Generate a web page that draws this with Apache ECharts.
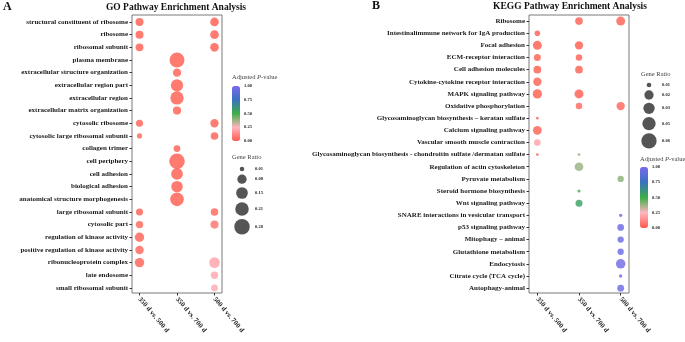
<!DOCTYPE html>
<html>
<head>
<meta charset="utf-8">
<script src="https://cdn.jsdelivr.net/npm/echarts@6/dist/echarts.min.js"></script>
<style>
  html, body { margin: 0; padding: 0; background: #fff; }
  #chart { width: 685px; height: 342px; }
</style>
</head>
<body>
<div id="chart"></div>
<script>
// ---- data ----
const comparisons = ["350 d vs. 500 d", "350 d vs. 700 d", "500 d vs. 700 d"];

const goTerms = [
  "structural constituent of ribosome", "ribosome", "ribosomal subunit", "plasma membrane",
  "extracellular structure organization", "extracellular region part", "extracellular region",
  "extracellular matrix organization", "cytosolic ribosome", "cytosolic large ribosomal subunit",
  "collagen trimer", "cell periphery", "cell adhesion", "biological adhesion",
  "anatomical structure morphogenesis", "large ribosomal subunit", "cytosolic part",
  "regulation of kinase activity", "positive regulation of kinase activity",
  "ribonucleoprotein complex", "late endosome", "small ribosomal subunit"
];
// gene ratio per comparison, null = not enriched
const goRatio350v500 = [0.061, 0.061, 0.058, null, null, null, null, null, 0.048, 0.02, null, null, null, null, null, 0.048, 0.052, 0.08, 0.068, 0.083, null, null];
const goRatio350v700 = [null, null, null, 0.262, 0.066, 0.17, 0.203, 0.064, null, null, 0.043, 0.28, 0.153, 0.143, 0.217, null, null, null, null, null, null, null];
const goRatio500v700 = [0.071, 0.071, 0.071, null, null, null, null, null, 0.066, 0.056, null, null, null, null, null, 0.054, 0.064, null, null, 0.121, 0.052, 0.042];
// adjusted p-value
const goPadj350v500 = [0.01, 0.01, 0.01, null, null, null, null, null, 0.02, 0.03, null, null, null, null, null, 0.02, 0.03, 0.02, 0.03, 0.02, null, null];
const goPadj350v700 = [null, null, null, 0.01, 0.02, 0.01, 0.01, 0.02, null, null, 0.02, 0.01, 0.01, 0.01, 0.01, null, null, null, null, null, null, null];
const goPadj500v700 = [0.01, 0.01, 0.01, null, null, null, null, null, 0.02, 0.02, null, null, null, null, null, 0.03, 0.07, null, null, 0.2, 0.21, 0.22];

const keggTerms = [
  "Ribosome", "Intestinalimmune network for IgA production", "Focal adhesion",
  "ECM-receptor interaction", "Cell adhesion molecules", "Cytokine-cytokine receptor interaction",
  "MAPK signaling pathway", "Oxidative phosphorylation",
  "Glycosaminoglycan biosynthesis \u2013 keratan sulfate", "Calcium signaling pathway",
  "Vascular smooth muscle contraction",
  "Glycosaminoglycan biosynthesis - chondroitin sulfate /dermatan sulfate",
  "Regulation of actin cytoskeleton", "Pyruvate metabolism", "Steroid hormone biosynthesis",
  "Wnt signaling pathway", "SNARE interactions in vesicular transport", "p53 signaling pathway",
  "Mitophagy \u2013 animal", "Glutathione metabolism", "Endocytosis",
  "Citrate cycle (TCA cycle)", "Autophagy-animal"
];
const keggRatio350v500 = [null, 0.012, 0.0193, 0.015, 0.0165, 0.0178, 0.02, null, 0.0057, 0.0187, 0.0143, 0.0057, null, null, null, null, null, null, null, null, null, null, null];
const keggRatio350v700 = [0.0165, null, 0.0178, 0.014, 0.0165, null, 0.0193, 0.014, null, null, null, 0.0057, 0.0187, null, 0.0067, 0.015, null, null, null, null, null, null, null];
const keggRatio500v700 = [0.0193, null, null, null, null, null, null, 0.0178, null, null, null, null, null, 0.0135, null, null, 0.007, 0.0143, 0.0135, 0.0135, 0.021, 0.007, 0.0146];
const keggPadj350v500 = [null, 0.02, 0.01, 0.02, 0.01, 0.02, 0.01, null, 0.03, 0.02, 0.2, 0.03, null, null, null, null, null, null, null, null, null, null, null];
const keggPadj350v700 = [0.02, null, 0.01, 0.02, 0.02, null, 0.01, 0.04, null, null, null, 0.38, 0.38, null, 0.48, 0.56, null, null, null, null, null, null, null];
const keggPadj500v700 = [0.02, null, null, null, null, null, null, 0.03, null, null, null, null, null, 0.4, null, null, 0.94, 0.95, 0.95, 0.95, 0.96, 0.95, 0.95];

const padjTicks = [0, 0.25, 0.5, 0.75, 1];
const goRatioBreaks = [0.01, 0.08, 0.15, 0.21, 0.28];
const keggRatioBreaks = [0.01, 0.02, 0.03, 0.05, 0.06];

// ---- scales ----
const padjColors = ["#ff5a4c", "#ffb6c1", "#3cae45", "#3a72c0", "#7b68ee"];
const serif = "Liberation Serif";

// piecewise-linear size scale through the legend keys (diameter px)
function sizeScale(breaks, px) {
  return function (v) {
    let i = 0;
    while (i < breaks.length - 2 && v > breaks[i + 1]) i++;
    const t = (v - breaks[i]) / (breaks[i + 1] - breaks[i]);
    return Math.max(2, px[i] + t * (px[i + 1] - px[i]));
  };
}
const goSize = sizeScale(goRatioBreaks, [4.5, 9.3, 11.7, 13.5, 15.5]);
const keggSize = sizeScale(keggRatioBreaks, [4.7, 9.3, 11.3, 13.3, 15.3]);

function points(ratioCols, padjCols, terms) {
  const out = [];
  ratioCols.forEach((col, j) => {
    col.forEach((r, i) => {
      if (r != null) out.push([j, i, r, padjCols[j][i], terms[i]]);
    });
  });
  return out;
}
const goData = points([goRatio350v500, goRatio350v700, goRatio500v700],
  [goPadj350v500, goPadj350v700, goPadj500v700], goTerms);
const keggData = points([keggRatio350v500, keggRatio350v700, keggRatio500v700],
  [keggPadj350v500, keggPadj350v700, keggPadj500v700], keggTerms);

// legend key centres stacked by key size
function keyCentres(breaks, size, gap) {
  const pos = [0];
  for (let i = 1; i < breaks.length; i++) {
    pos.push(pos[i - 1] + (size(breaks[i - 1]) + size(breaks[i])) / 2 + gap);
  }
  return pos;
}
const goKeys = keyCentres(goRatioBreaks, goSize, 3.3);
const keggKeys = keyCentres(keggRatioBreaks, keggSize, 3.0);

// ---- axis helpers ----
function catX(grid) {
  return {
    type: "value", gridIndex: grid, min: -0.2, max: 2.2,
    splitLine: { show: false }, axisLine: { show: false, onZero: false },
    axisTick: { show: true, customValues: [0, 1, 2], length: 2.5, lineStyle: { color: "#333" } },
    axisLabel: {
      customValues: [0, 1, 2], rotate: -50, margin: 5,
      fontFamily: serif, fontWeight: "bold", fontSize: 7, color: "#1a1a1a",
      formatter: (v) => comparisons[Math.round(v)]
    }
  };
}
function catY(grid, terms, min, max) {
  const idx = terms.map((t, i) => i);
  return {
    type: "value", gridIndex: grid, inverse: true, min: min, max: max,
    splitLine: { show: false }, axisLine: { show: false, onZero: false },
    axisTick: { show: true, customValues: idx, length: 2.5, lineStyle: { color: "#333" } },
    axisLabel: {
      customValues: idx, margin: 4,
      fontFamily: serif, fontWeight: "bold", fontSize: 7, color: "#1a1a1a",
      formatter: (v) => terms[Math.round(v)]
    }
  };
}
function hiddenX(grid) {
  return { type: "value", gridIndex: grid, min: -1, max: 1, show: false };
}
function legendY(grid, keys, breaks, fontSize) {
  return {
    type: "value", gridIndex: grid, inverse: true, position: "right",
    min: keys[0] - 8, max: keys[keys.length - 1] + 8,
    splitLine: { show: false }, axisLine: { show: false, onZero: false }, axisTick: { show: false },
    axisLabel: {
      customValues: keys, margin: 3, fontFamily: serif, fontWeight: "bold",
      fontSize: fontSize, color: "#222",
      formatter: (v) => {
        let k = 0;
        keys.forEach((p, i) => { if (Math.abs(p - v) < Math.abs(keys[k] - v)) k = i; });
        return breaks[k].toFixed(2);
      }
    }
  };
}
function barLabelsY(grid, fontSize) {
  return {
    type: "value", gridIndex: grid, min: 0, max: 1, position: "right",
    splitLine: { show: false }, axisLine: { show: false, onZero: false }, axisTick: { show: false },
    axisLabel: {
      customValues: padjTicks, margin: 4, fontFamily: serif, fontWeight: "bold",
      fontSize: fontSize, color: "#222", formatter: (v) => v.toFixed(2)
    }
  };
}

const panelGrid = { show: true, borderColor: "#7a7a7a", borderWidth: 1, backgroundColor: "#fff" };
const legendTitle = {
  fontFamily: serif, fontSize: 6.5, color: "#444", fontWeight: "normal",
  rich: { i: { fontFamily: serif, fontSize: 6.5, color: "#444", fontStyle: "italic" } }
};

const option = {
  animation: false,
  backgroundColor: "#fff",
  title: [
    { text: "A", left: 3, top: 1, padding: 0, textStyle: { fontFamily: serif, fontWeight: "bold", fontSize: 12, color: "#111" } },
    { text: "B", left: 372, top: 0, padding: 0, textStyle: { fontFamily: serif, fontWeight: "bold", fontSize: 12, color: "#111" } },
    { text: "GO Pathway Enrichment Analysis", left: 176, top: 3, padding: 0, textAlign: "center",
      textStyle: { fontFamily: serif, fontWeight: "bold", fontSize: 9.5, color: "#111" } },
    { text: "KEGG Pathway Enrichment Analysis", left: 570, top: 2, padding: 0, textAlign: "center",
      textStyle: { fontFamily: serif, fontWeight: "bold", fontSize: 9.5, color: "#111" } },
    { text: "Adjusted {i|P}-value", left: 232, top: 74, padding: 0, textStyle: legendTitle },
    { text: "Gene Ratio", left: 232, top: 154, padding: 0, textStyle: legendTitle },
    { text: "Gene Ratio", left: 641, top: 71, padding: 0, textStyle: legendTitle },
    { text: "Adjusted {i|P}-value", left: 640, top: 156, padding: 0, textStyle: legendTitle }
  ],
  grid: [
    Object.assign({ left: 132, top: 15, width: 90, height: 278 }, panelGrid),
    Object.assign({ left: 529, top: 15, width: 100, height: 278 }, panelGrid),
    { left: 232, top: 86, width: 8, height: 55 },             // GO colour bar labels
    { left: 640, top: 167, width: 8, height: 61 },            // KEGG colour bar labels
    { left: 232, top: 169 - 8, width: 20, height: goKeys[4] + 16 },    // GO size keys
    { left: 639, top: 85 - 8, width: 20, height: keggKeys[4] + 16 }    // KEGG size keys
  ],
  xAxis: [catX(0), catX(1), hiddenX(2), hiddenX(3), hiddenX(4), hiddenX(5)],
  yAxis: [
    catY(0, goTerms, -0.55, goTerms.length - 0.6),
    catY(1, keggTerms, -0.5, keggTerms.length - 0.6),
    barLabelsY(2, 4.5),
    barLabelsY(3, 4.5),
    legendY(4, goKeys, goRatioBreaks, 4.5),
    legendY(5, keggKeys, keggRatioBreaks, 4.5)
  ],
  visualMap: [
    { type: "continuous", min: 0, max: 1, dimension: 3, seriesIndex: 0, calculable: false,
      left: 232, top: 86, itemWidth: 8, itemHeight: 55, padding: 0, hoverLink: false,
      inRange: { color: padjColors } },
    { type: "continuous", min: 0, max: 1, dimension: 3, seriesIndex: 1, calculable: false,
      left: 640, top: 167, itemWidth: 8, itemHeight: 61, padding: 0, hoverLink: false,
      inRange: { color: padjColors } }
  ],
  series: [
    { type: "scatter", xAxisIndex: 0, yAxisIndex: 0, data: goData,
      symbolSize: (v) => goSize(v[2]), itemStyle: { opacity: 0.82 } },
    { type: "scatter", xAxisIndex: 1, yAxisIndex: 1, data: keggData,
      symbolSize: (v) => keggSize(v[2]), itemStyle: { opacity: 0.82 } },
    { type: "scatter", xAxisIndex: 4, yAxisIndex: 4, silent: true,
      data: goRatioBreaks.map((b, i) => [0, goKeys[i], b]),
      symbolSize: (v) => goSize(v[2]), itemStyle: { color: "#2b2b2b" } },
    { type: "scatter", xAxisIndex: 5, yAxisIndex: 5, silent: true,
      data: keggRatioBreaks.map((b, i) => [0, keggKeys[i], b]),
      symbolSize: (v) => keggSize(v[2]), itemStyle: { color: "#2b2b2b" } }
  ]
};

const chart = echarts.init(document.getElementById("chart"), null, { renderer: "canvas" });
chart.setOption(option);
</script>
</body>
</html>
